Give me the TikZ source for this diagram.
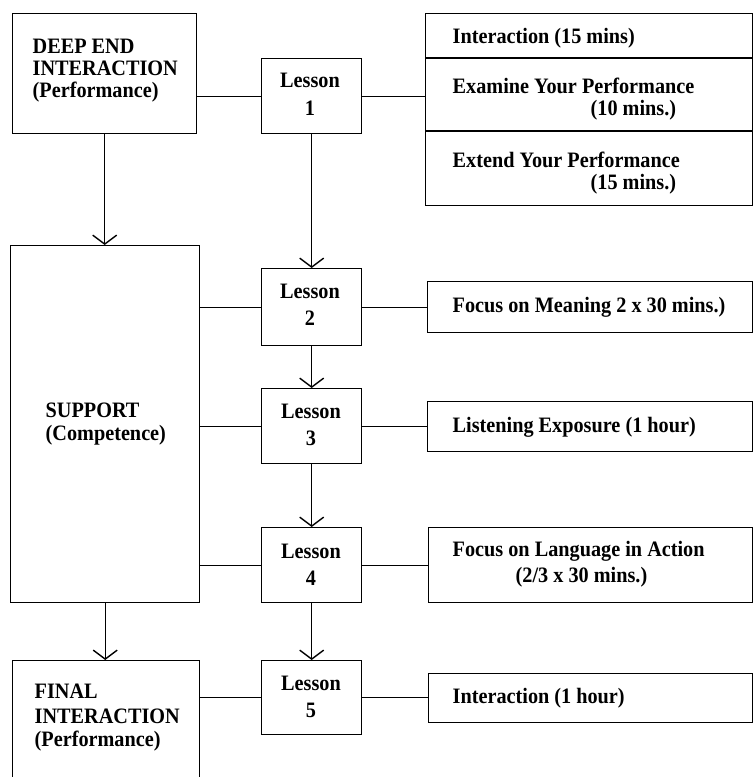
\documentclass[tikz,border=0pt]{standalone}
\usepackage{fontspec}
\setmainfont{Liberation Serif}[FakeStretch=0.92]
\usetikzlibrary{arrows.meta}
\begin{document}
\begin{tikzpicture}[x=1pt,y=-1pt, line width=1.4pt,
 box/.style={draw, inner sep=0pt, anchor=north west},
 txt/.style={inner sep=0pt, anchor=base west, font=\bfseries\fontsize{22}{24}\selectfont},
 ctxt/.style={txt, anchor=base},
 arr/.style={-{Straight Barb[length=9pt,width=24pt]}}]
\useasboundingbox (0,0) rectangle (755,777);
% left boxes
\node[box, minimum width=184pt, minimum height=120pt] (de) at (12,13) {};
\node[box, minimum width=189pt, minimum height=357pt] (sup) at (10,245) {};
\node[box, minimum width=187pt, minimum height=140pt] (fin) at (12,660) {};
% lesson boxes
\node[box, minimum width=100pt, minimum height=75pt] (l1) at (261,58) {};
\node[box, minimum width=100pt, minimum height=77pt] (l2) at (261,268) {};
\node[box, minimum width=100pt, minimum height=75pt] (l3) at (261,388) {};
\node[box, minimum width=100pt, minimum height=75pt] (l4) at (261,527) {};
\node[box, minimum width=100pt, minimum height=74pt] (l5) at (261,660) {};
% right boxes
\node[box, minimum width=327pt, minimum height=192pt] (grp) at (425,13) {};
\coordinate (r1a) at (425,58); \coordinate (r1b) at (752,58);
\coordinate (r2a) at (425,131); \coordinate (r2b) at (752,131);
\draw (r1a) -- (r1b);
\draw (r2a) -- (r2b);
\node[box, minimum width=325pt, minimum height=51pt] (fm) at (427,281) {};
\node[box, minimum width=325pt, minimum height=50pt] (le) at (427,401) {};
\node[box, minimum width=324pt, minimum height=75pt] (la) at (428,527) {};
\node[box, minimum width=324pt, minimum height=49pt] (ih) at (428,673) {};
% texts left
\node[txt] (t1) at (32,53) {DEEP END};
\node[txt] (t2) at (32,75) {INTERACTION};
\node[txt] (t3) at (32,97) {(Performance)};
\node[txt] (t4) at (45,417) {SUPPORT};
\node[txt] (t5) at (45,440) {(Competence)};
\node[txt] (t6) at (34,698) {FINAL};
\node[txt] (t7) at (34,723) {INTERACTION};
\node[txt] (t8) at (34,746) {(Performance)};
% lesson texts
\node[ctxt] (a1) at (310,87) {Lesson};  \node[ctxt] (b1) at (310,115) {1};
\node[ctxt] (a2) at (310,298) {Lesson}; \node[ctxt] (b2) at (310,325) {2};
\node[ctxt] (a3) at (311,418) {Lesson}; \node[ctxt] (b3) at (311,445) {3};
\node[ctxt] (a4) at (311,558) {Lesson}; \node[ctxt] (b4) at (311,585) {4};
\node[ctxt] (a5) at (311,690) {Lesson}; \node[ctxt] (b5) at (311,717) {5};
% right texts
\node[txt] (s1) at (452,43) {Interaction (15 mins)};
\node[txt] (s2) at (452,93) {Examine Your Performance};
\node[txt] (s3) at (590,115) {(10 mins.)};
\node[txt] (s4) at (452,167) {Extend Your Performance};
\node[txt] (s5) at (590,189) {(15 mins.)};
\node[txt] (s6) at (452,312) {Focus on Meaning 2 x 30 mins.)};
\node[txt] (s7) at (452,432) {Listening Exposure (1 hour)};
\node[txt] (s8) at (452,556) {Focus on Language in Action};
\node[txt] (s9) at (515,582) {(2/3 x 30 mins.)};
\node[txt] (s10) at (452,703) {Interaction (1 hour)};
% arrows
\draw[arr] (de.south) -- (de.south |- sup.north);
\draw[arr] (sup.south) -- (sup.south |- fin.north);
\draw[arr] (l1.south) -- (l2.north);
\draw[arr] (l2.south) -- (l3.north);
\draw[arr] (l3.south) -- (l4.north);
\draw[arr] (l4.south) -- (l5.north);
% horizontal connectors
\draw (l1.west) -- (l1.west -| de.east);
\draw (l1.east) -- (l1.east -| grp.west);
\draw (l2.west) -- (l2.west -| sup.east);
\draw (l2.east) -- (l2.east -| fm.west);
\draw (l3.west) -- (l3.west -| sup.east);
\draw (l3.east) -- (l3.east -| le.west);
\draw (l4.west) -- (l4.west -| sup.east);
\draw (l4.east) -- (l4.east -| la.west);
\draw (l5.west) -- (l5.west -| fin.east);
\draw (l5.east) -- (l5.east -| ih.west);
\end{tikzpicture}
\end{document}
